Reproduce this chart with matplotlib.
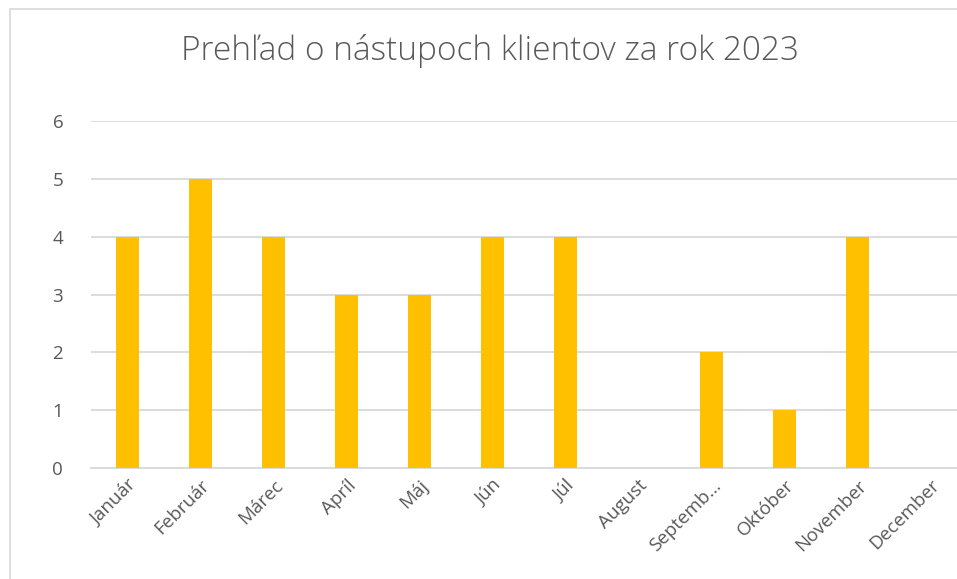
import matplotlib.pyplot as plt
from matplotlib.patches import Rectangle

months = ['Január', 'Február', 'Márec', 'Apríl', 'Máj', 'Jún', 'Júl',
          'August', 'Septemb…', 'Október', 'November', 'December']
clients = [4, 5, 4, 3, 3, 4, 4, 0, 2, 1, 4, 0]
y_ticks = [0, 1, 2, 3, 4, 5, 6]

plt.rcParams['font.family'] = ['Open Sans', 'DejaVu Sans']

fig = plt.figure(figsize=(9.57, 5.79), dpi=100)
# chart area border (cropped at right/bottom in the original)
fig.patches.append(Rectangle((10 / 957, -0.1), 1.1, 1 - 9 / 579 + 0.1,
                             transform=fig.transFigure, fill=False,
                             edgecolor='#d9d9d9', linewidth=1.2))

ax = fig.add_axes([91 / 957, 1 - 468 / 579, 876 / 957, 347 / 579])
ax.bar(range(len(months)), clients, width=0.315, color='#FFC000', zorder=3)

ax.set_xlim(-0.5, len(months) - 0.5)
ax.set_ylim(0, 6)
ax.set_yticks(y_ticks)
ax.grid(axis='y', color='#d9d9d9', linewidth=1.3, zorder=0)
for s in ['top', 'right', 'left']:
    ax.spines[s].set_visible(False)
ax.spines['bottom'].set_color('#d9d9d9')
ax.spines['bottom'].set_linewidth(1.3)
ax.tick_params(length=0, colors='#595959', labelsize=13.5)
ax.tick_params(axis='y', pad=20)
ax.tick_params(axis='x', pad=6)
ax.set_xticks(range(len(months)))
ax.set_xticklabels(months, rotation=45, ha='right', rotation_mode='anchor')

fig.text(490 / 957, 1 - 51 / 579, 'Prehľad o nástupoch klientov za rok 2023',
         ha='center', va='center', fontsize=24, color='#595959',
         fontweight='light')

fig.savefig('out.png', dpi=100)
